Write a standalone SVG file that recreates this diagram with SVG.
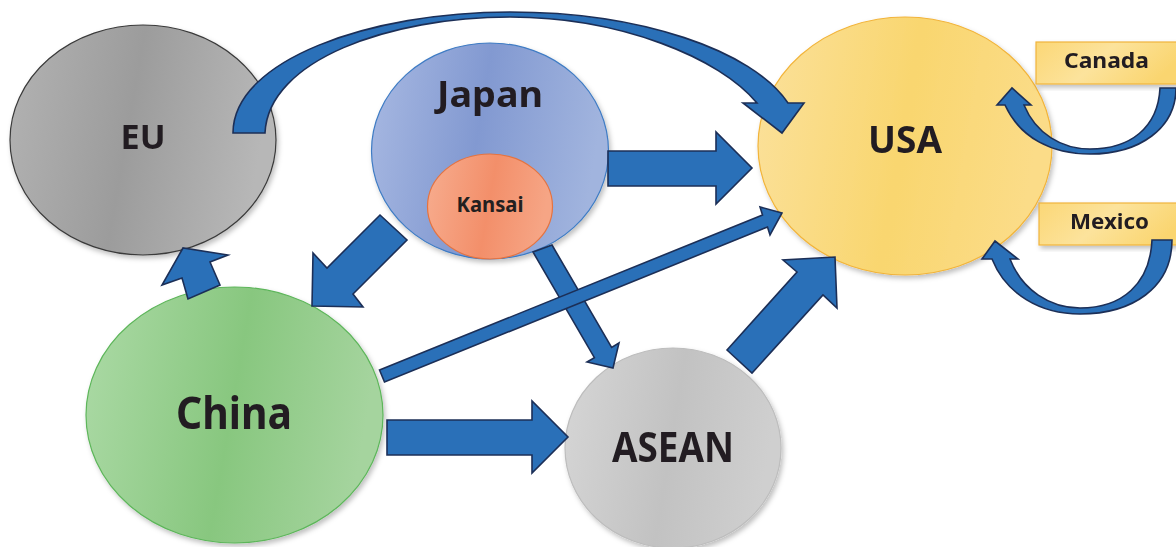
<svg xmlns="http://www.w3.org/2000/svg" width="1176" height="547" viewBox="0 0 1176 547">
<style>
.lbl{font-family:"Noto Sans","Open Sans","Liberation Sans",sans-serif;font-weight:bold;fill:#231f20;text-anchor:middle}
.arr{fill:#2a70b8;stroke:#1c2f57;stroke-width:1.6;stroke-linejoin:miter}
.node{filter:url(#sh)}
</style>
<defs>
<filter id="sh" x="-10%" y="-10%" width="125%" height="125%">
<feDropShadow dx="2" dy="3" stdDeviation="2.5" flood-color="#000" flood-opacity="0.25"/>
</filter>
<linearGradient id="gEU" x1="0" y1="0" x2="1" y2="0.15">
<stop offset="0" stop-color="#b3b3b3"/><stop offset="0.5" stop-color="#9c9c9c"/><stop offset="1" stop-color="#b7b7b7"/>
</linearGradient>
<linearGradient id="gJP" x1="0" y1="0" x2="1" y2="0.15">
<stop offset="0" stop-color="#a8b9e2"/><stop offset="0.5" stop-color="#8299d1"/><stop offset="1" stop-color="#a1b4de"/>
</linearGradient>
<linearGradient id="gKS" x1="0" y1="0" x2="1" y2="0.15">
<stop offset="0" stop-color="#f7ad8f"/><stop offset="0.55" stop-color="#f38f6a"/><stop offset="1" stop-color="#f6a585"/>
</linearGradient>
<linearGradient id="gUS" x1="0" y1="0" x2="1" y2="0.15">
<stop offset="0" stop-color="#fbe19c"/><stop offset="0.55" stop-color="#f9d66f"/><stop offset="1" stop-color="#fbdc88"/>
</linearGradient>
<linearGradient id="gCN" x1="0" y1="0" x2="1" y2="0.15">
<stop offset="0" stop-color="#acdaa6"/><stop offset="0.55" stop-color="#88c77f"/><stop offset="1" stop-color="#a5d49e"/>
</linearGradient>
<linearGradient id="gAS" x1="0" y1="0" x2="1" y2="0.15">
<stop offset="0" stop-color="#d6d6d6"/><stop offset="0.55" stop-color="#c2c2c2"/><stop offset="1" stop-color="#cfcfcf"/>
</linearGradient>
<linearGradient id="gBX" x1="0" y1="0" x2="1" y2="0.3">
<stop offset="0" stop-color="#fbd776"/><stop offset="0.5" stop-color="#fce39c"/><stop offset="1" stop-color="#fad56f"/>
</linearGradient>
</defs>

<g id="eu" class="node">
<ellipse cx="143" cy="140" rx="133" ry="115" fill="url(#gEU)" stroke="#3a3a3a" stroke-width="1.2"/>
<text class="lbl" x="143" y="149" font-size="34" textLength="45" lengthAdjust="spacingAndGlyphs">EU</text>
</g>
<g id="usa" class="node">
<ellipse cx="905" cy="146" rx="147" ry="129" fill="url(#gUS)" stroke="#f2b43a" stroke-width="1.2"/>
<text class="lbl" x="905" y="153" font-size="38" textLength="74" lengthAdjust="spacingAndGlyphs">USA</text>
</g>
<g id="china" class="node">
<ellipse cx="234.5" cy="415" rx="148.5" ry="128" fill="url(#gCN)" stroke="#5db65a" stroke-width="1.2"/>
<text class="lbl" x="234" y="429" font-size="45" textLength="116" lengthAdjust="spacingAndGlyphs">China</text>
</g>
<g id="asean" class="node">
<ellipse cx="673" cy="448" rx="108" ry="100" fill="url(#gAS)" stroke="#bdbdbd" stroke-width="1.2"/>
<text class="lbl" x="673" y="462" font-size="42" textLength="122" lengthAdjust="spacingAndGlyphs">ASEAN</text>
</g>
<g id="japan" class="node">
<ellipse cx="490" cy="151" rx="118.5" ry="108" fill="url(#gJP)" stroke="#3f7cc4" stroke-width="1.2"/>
<text class="lbl" x="490" y="107" font-size="35" textLength="106" lengthAdjust="spacingAndGlyphs">Japan</text>
</g>
<g id="kansai">
<ellipse cx="490" cy="206.5" rx="62.5" ry="52.5" fill="url(#gKS)" stroke="#e6733f" stroke-width="1.2"/>
<text class="lbl" x="490" y="212" font-size="21" textLength="67" lengthAdjust="spacingAndGlyphs">Kansai</text>
</g>
<g id="canada" class="node">
<rect x="1036" y="42" width="150" height="42" fill="url(#gBX)" stroke="#f0b43c" stroke-width="1.2"/>
<text class="lbl" x="1106.5" y="68" font-size="21" textLength="85" lengthAdjust="spacingAndGlyphs">Canada</text>
</g>
<g id="mexico" class="node">
<rect x="1039" y="203" width="150" height="42" fill="url(#gBX)" stroke="#f0b43c" stroke-width="1.2"/>
<text class="lbl" x="1109.5" y="229" font-size="21" textLength="79" lengthAdjust="spacingAndGlyphs">Mexico</text>
</g>

<g id="connectors">
<path class="arr" d="M 233 133 C 233 60 370 12 510 12 C 640 12 752 50 788 103 L 804 103 L 782 133 L 743 103 L 757 103 C 720 58 620 17 510 17 C 390 17 268 60 265 133 Z"/>
<path class="arr" d="M 608 151 L 716 151 L 716 132 L 752 168 L 716 204 L 716 186 L 608 186 Z"/>
<path class="arr" d="M 387 420 L 532 420 L 532 401 L 568 437 L 532 473 L 532 455 L 387 455 Z"/>
<path class="arr" d="M 380 215 L 407 240 L 353 294 L 363 307 L 312 306 L 313 253 L 327 268 Z"/>
<path class="arr" d="M 188 299 L 182 278 L 162 285 L 183 248 L 228 255 L 210 262 L 220 285 Z"/>
<path class="arr" d="M 533 252 L 552 245 L 611.6 347.4 L 619 343 L 613 368 L 587 362 L 594.4 357.6 Z"/>
<path class="arr" d="M 379.5 370 L 762.5 215 L 760 207 L 782 213 L 770 235 L 767.5 227 L 384.5 382 Z"/>
<path class="arr" d="M 727 350 L 797 272 L 783 260 L 835 257 L 837 308 L 823 295 L 752 373 Z"/>
<path class="arr" d="M 1160 88 C 1158 128 1130 149 1090 149 C 1062 149 1036 134 1024 105 L 1031 105 L 1012 88 L 997 105 L 1005 105 C 1020 138 1052 154 1090 154 C 1140 154 1176 128 1176 88 Z"/>
<path class="arr" d="M 1152 240 C 1150 284 1122 308 1080 308 C 1050 308 1022 290 1010 259 L 1018 259 L 995 241 L 982 259 L 992 259 C 1006 294 1040 314 1080 314 C 1132 314 1172 288 1172 240 Z"/>
</g>
</svg>
